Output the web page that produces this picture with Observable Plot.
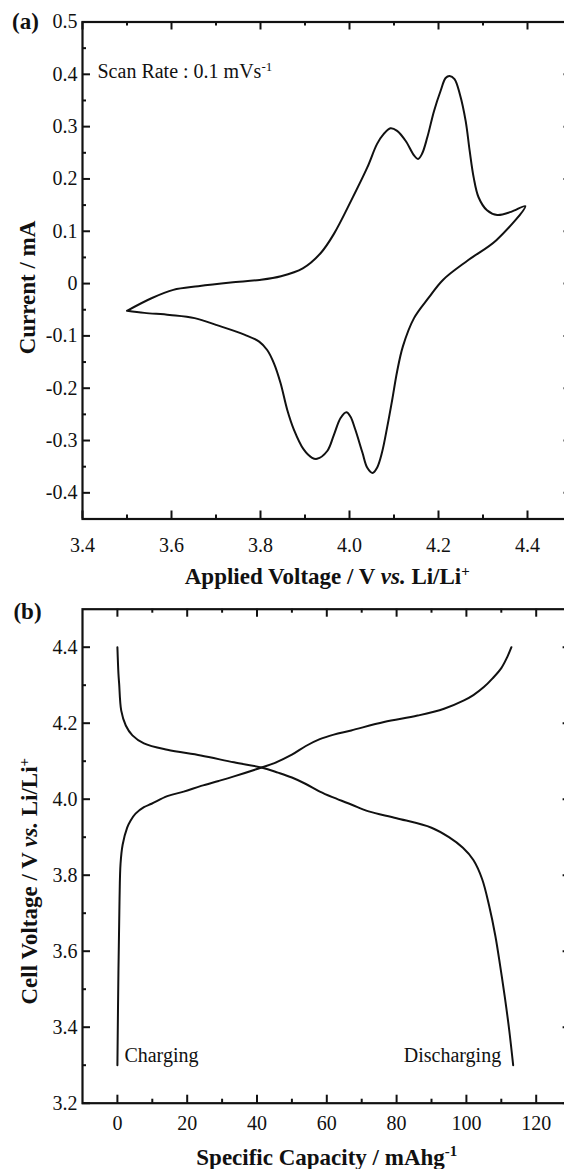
<!DOCTYPE html>
<html><head><meta charset="utf-8">
<script src="https://cdn.jsdelivr.net/npm/d3@7"></script>
<script src="https://cdn.jsdelivr.net/npm/@observablehq/plot@0.6"></script>
<style>
html,body{margin:0;padding:0;background:#fff;overflow:hidden;}
#chart{width:564px;}
#chart svg{display:block;overflow:visible;}
</style></head><body><div id="chart"></div><script>
// ---- Panel (a): cyclic voltammogram ----
const cvAnodicV = [3.500,3.555,3.604,3.660,3.733,3.798,3.846,3.895,3.935,3.965,4.004,4.040,4.062,4.077,4.092,4.107,4.126,4.145,4.154,4.163,4.175,4.190,4.205,4.216,4.225,4.236,4.248,4.261,4.270,4.279,4.290,4.309,4.332,4.363,4.395];
const cvAnodicI = [-0.052,-0.028,-0.012,-0.005,0.002,0.007,0.014,0.029,0.058,0.095,0.159,0.222,0.267,0.286,0.297,0.292,0.273,0.245,0.238,0.248,0.280,0.330,0.369,0.393,0.397,0.391,0.362,0.311,0.254,0.203,0.165,0.140,0.131,0.137,0.148];
const cvCathodicV = [4.395,4.330,4.267,4.210,4.178,4.145,4.120,4.107,4.096,4.085,4.073,4.062,4.052,4.040,4.029,4.013,4.002,3.993,3.980,3.965,3.950,3.927,3.916,3.897,3.875,3.860,3.845,3.830,3.815,3.797,3.765,3.700,3.652,3.596,3.539,3.500];
const cvCathodicI = [0.148,0.083,0.045,0.007,-0.027,-0.066,-0.120,-0.168,-0.222,-0.273,-0.323,-0.352,-0.362,-0.352,-0.323,-0.279,-0.254,-0.246,-0.257,-0.289,-0.320,-0.335,-0.333,-0.317,-0.279,-0.241,-0.190,-0.152,-0.127,-0.111,-0.098,-0.079,-0.066,-0.060,-0.056,-0.052];
const cvXMajor = [3.4,3.6,3.8,4.0,4.2,4.4];
const cvXMinor = [3.5,3.7,3.9,4.1,4.3];
const cvYMajor = [0.5,0.4,0.3,0.2,0.1,0,-0.1,-0.2,-0.3,-0.4];
const cvYMinor = [0.45,0.35,0.25,0.15,0.05,-0.05,-0.15,-0.25,-0.35];

// ---- Panel (b): charge / discharge ----
const chargeQ = [0,0.3,0.6,0.9,1.5,2.8,3.8,5.2,7.6,9.8,14.3,19,24,29,33.4,41.5,45,50,54,58,62,67,76.4,86,93.6,99.3,102,105,107.5,110,111.7,112.9];
const chargeV = [3.30,3.55,3.73,3.83,3.88,3.925,3.944,3.962,3.979,3.988,4.008,4.020,4.035,4.048,4.060,4.084,4.095,4.117,4.140,4.158,4.170,4.181,4.203,4.220,4.238,4.260,4.274,4.295,4.318,4.345,4.374,4.400];
const dischargeQ = [0,0.3,0.5,1.1,2.4,4.3,7.6,14.3,23.9,33.4,41.5,46,50,54,58,62,67,72,80,90,95,99,102,104.5,106.5,108.3,109.7,111,112.3,113.4];
const dischargeV = [4.400,4.330,4.304,4.233,4.194,4.168,4.147,4.130,4.115,4.097,4.083,4.070,4.057,4.040,4.020,4.004,3.986,3.968,3.950,3.925,3.900,3.872,3.840,3.790,3.720,3.640,3.560,3.480,3.390,3.300];
const qMajor = [0,20,40,60,80,100,120];
const qMinor = [10,30,50,70,90,110];
const vMajor = [3.2,3.4,3.6,3.8,4.0,4.2,4.4];
const vMinor = [3.3,3.5,3.7,3.9,4.1,4.3];

const cvData = cvAnodicV.map((v,i)=>({v, i: cvAnodicI[i]}))
  .concat(cvCathodicV.slice(1).map((v,k)=>({v, i: cvCathodicI[k+1]})));
const chargeData = chargeQ.map((q,k)=>({q, v: chargeV[k]}));
const dischargeData = dischargeQ.map((q,k)=>({q, v: dischargeV[k]}));

const FONT = "'Liberation Serif','Times New Roman',serif";
const INK = "#111";

// inward-pointing ticks on all four sides of the frame (drawn as tick marks with insets)
function frameTicks(xMajor, xMinor, yMajor, yMinor, innerW, innerH) {
  const s = {stroke: INK, strokeWidth: 2};
  const out = [];
  for (const [vals, len] of [[xMajor, 8], [xMinor, 4]]) {
    out.push(Plot.tickX(vals, {x: d => d, insetTop: innerH - len, ...s}));
    out.push(Plot.tickX(vals, {x: d => d, insetBottom: innerH - len, ...s}));
  }
  for (const [vals, len] of [[yMajor, 8], [yMinor, 4]]) {
    out.push(Plot.tickY(vals, {y: d => d, insetRight: innerW - len, ...s}));
    out.push(Plot.tickY(vals, {y: d => d, insetLeft: innerW - len, ...s}));
  }
  return out;
}

function rich(svg) {
  d3.select(svg).selectAll("text").each(function() {
    const s = this.textContent;
    if (!/(_[^_]+_|\^\{)/.test(s)) return;
    const parts = s.split(/(_[^_]+_|\^\{[^}]*\})/).filter(p => p);
    this.textContent = "";
    let raised = false;
    for (const p of parts) {
      const ts = d3.select(this).append("tspan");
      if (p.startsWith("_")) {
        ts.text(p.slice(1,-1)).attr("font-style","italic");
        if (raised) { ts.attr("dy","0.36em"); raised = false; }
      } else if (p.startsWith("^{")) {
        ts.text(p.slice(2,-1)).attr("font-size","65%").attr("dy","-0.55em");
        raised = true;
      } else {
        ts.text(p);
        if (raised) { ts.attr("dy","0.36em"); raised = false; }
      }
    }
  });
}

const W = 564;
// ---------- panel (a) ----------
const topH = 595, aT = 21.5, aB = topH - 518.5, aL = 82, aR = -7.5;
const plotA = Plot.plot({
  width: W, height: topH,
  marginTop: aT, marginBottom: aB, marginLeft: aL, marginRight: aR,
  style: {fontFamily: FONT, fontSize: "20px", color: INK, background: "#fff", overflow: "visible"},
  x: {domain: [3.4, 4.5], label: null},
  y: {domain: [-0.45, 0.5], label: null},
  marks: [
    Plot.frame({stroke: INK, fill: "none", strokeWidth: 2.2}),
    Plot.axisX(cvXMajor, {anchor: "bottom", tickSize: 0, tickPadding: 19, tickFormat: d => d.toFixed(1), fontFamily: FONT, fontSize: 20}),
    Plot.axisY(cvYMajor, {anchor: "left", tickSize: 0, tickPadding: 5, tickFormat: d => String(d), fontFamily: FONT, fontSize: 20}),
    ...frameTicks(cvXMajor, cvXMinor, cvYMajor, cvYMinor, W - aL - aR, topH - aT - aB),
    Plot.line(cvData, {x: "v", y: "i", curve: "catmull-rom", stroke: INK, strokeWidth: 2}),
    Plot.text(["(a)"], {frameAnchor: "top-left", lineAnchor: "middle", dx: -57, dy: 0, fontWeight: "bold", fontSize: 23, textAnchor: "middle", fontFamily: FONT}),
    Plot.text(["Scan Rate : 0.1 mVs^{-1}"], {frameAnchor: "top-left", lineAnchor: "middle", dx: 15, dy: 49.5, textAnchor: "start", fontSize: 20, fontFamily: FONT}),
    Plot.text(["Current / mA"], {frameAnchor: "left", lineAnchor: "middle", rotate: -90, dx: -55, dy: 17, textAnchor: "middle", fontWeight: "bold", fontSize: 23, fontFamily: FONT}),
    Plot.text(["Applied Voltage / V _vs._ Li/Li^{+}"], {frameAnchor: "bottom", lineAnchor: "middle", dy: 58, textAnchor: "middle", fontWeight: "bold", fontSize: 23, fontFamily: FONT})
  ]
});

// ---------- panel (b) ----------
const botH = 1169 - topH, bT = 608.7 - topH, bB = 1169 - 1102.7, bL = 82, bR = -6.6;
const plotB = Plot.plot({
  width: W, height: botH,
  marginTop: bT, marginBottom: bB, marginLeft: bL, marginRight: bR,
  style: {fontFamily: FONT, fontSize: "20px", color: INK, background: "#fff", overflow: "visible"},
  x: {domain: [-10, 130], label: null},
  y: {domain: [3.2, 4.5], label: null},
  marks: [
    Plot.frame({stroke: INK, fill: "none", strokeWidth: 2.2}),
    Plot.axisX(qMajor, {anchor: "bottom", tickSize: 0, tickPadding: 13, tickFormat: d => String(d), fontFamily: FONT, fontSize: 20}),
    Plot.axisY(vMajor, {anchor: "left", tickSize: 0, tickPadding: 5, tickFormat: d => d.toFixed(1), fontFamily: FONT, fontSize: 20}),
    ...frameTicks(qMajor, qMinor, vMajor, vMinor, W - bL - bR, botH - bT - bB),
    Plot.line(chargeData, {x: "q", y: "v", curve: "catmull-rom", stroke: INK, strokeWidth: 2}),
    Plot.line(dischargeData, {x: "q", y: "v", curve: "catmull-rom", stroke: INK, strokeWidth: 2}),
    Plot.text([{q: chargeQ[0], v: 3.325, t: "Charging"}], {x: "q", y: "v", text: "t", dx: 7, textAnchor: "start", fontSize: 20, fontFamily: FONT}),
    Plot.text([{q: dischargeQ[dischargeQ.length-1], v: 3.325, t: "Discharging"}], {x: "q", y: "v", text: "t", dx: -12, textAnchor: "end", fontSize: 20, fontFamily: FONT}),
    Plot.text(["(b)"], {frameAnchor: "top-left", lineAnchor: "middle", dx: -55, dy: 2, fontWeight: "bold", fontSize: 23, textAnchor: "middle", fontFamily: FONT}),
    Plot.text(["Cell Voltage / V _vs._ Li/Li^{+}"], {frameAnchor: "left", lineAnchor: "middle", rotate: -90, dx: -53, dy: 25, textAnchor: "middle", fontWeight: "bold", fontSize: 23, fontFamily: FONT}),
    Plot.text(["Specific Capacity / mAhg^{-1}"], {frameAnchor: "bottom", lineAnchor: "middle", dy: 54, textAnchor: "middle", fontWeight: "bold", fontSize: 23, fontFamily: FONT})
  ]
});

rich(plotA); rich(plotB);
document.getElementById("chart").append(plotA, plotB);
</script></body></html>
